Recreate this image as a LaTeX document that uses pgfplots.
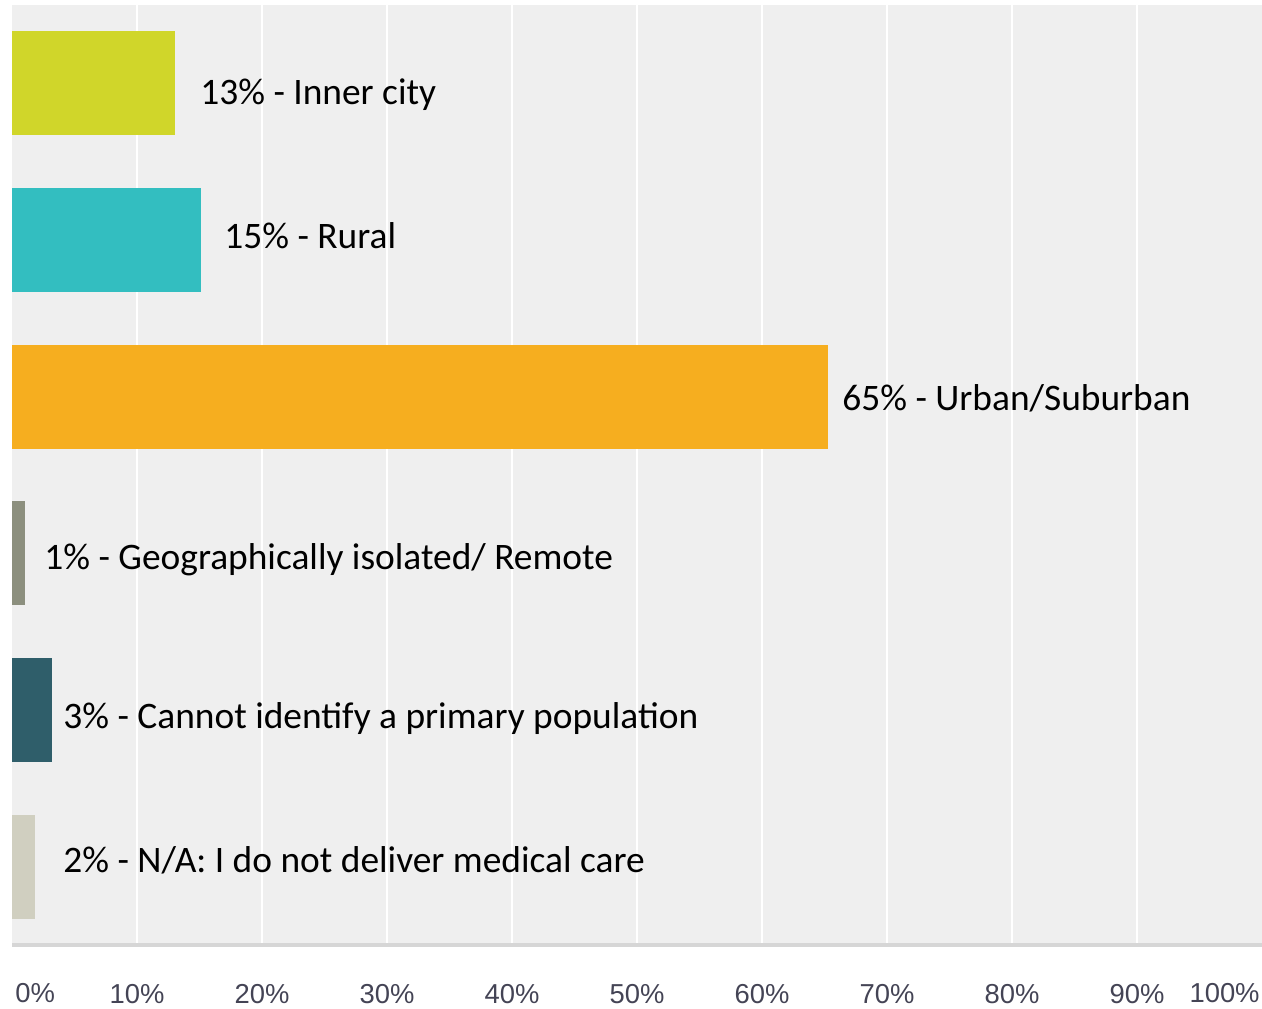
\documentclass[border=0pt]{standalone}
\usepackage{pgfplots}
\pgfplotsset{compat=1.18}
\usepackage{fontspec}
\setmainfont{Carlito}
\newfontfamily\arialf{Liberation Sans}
\definecolor{cInner}{RGB}{208,214,42}
\definecolor{cRural}{RGB}{51,190,192}
\definecolor{cUrban}{RGB}{246,174,31}
\definecolor{cGeo}{RGB}{140,143,126}
\definecolor{cCannot}{RGB}{47,94,106}
\definecolor{cNA}{RGB}{208,207,192}
\definecolor{bgc}{RGB}{239,239,239}
\definecolor{tickc}{RGB}{68,68,85}
\definecolor{axc}{RGB}{214,214,214}
\begin{document}
\begin{tikzpicture}
\path[use as bounding box] (0,0) rectangle (631pt,504pt);
\begin{axis}[
  at={(6pt,31.5pt)}, anchor=south west,
  width=625pt, height=470pt, scale only axis,
  xmin=0, xmax=100, ymin=-0.5, ymax=5.5, y dir=reverse,
  xbar, bar width=0.663,
  axis background/.style={fill=bgc},
  axis line style={draw=none},
  xtick={10,20,...,90},
  xticklabels={10\%,20\%,30\%,40\%,50\%,60\%,70\%,80\%,90\%},
  ytick=\empty,
  major tick length=0pt,
  xmajorgrids, grid style={white, line width=1pt},
  xticklabel style={font=\arialf\fontsize{13.7}{16}\selectfont, text=tickc, anchor=base, yshift=-29pt},
  clip=false,
]
\addplot[fill=cInner, draw=none, bar shift=0pt] coordinates {(13.0,0)};
\addplot[fill=cRural, draw=none, bar shift=0pt] coordinates {(15.1,1)};
\addplot[fill=cUrban, draw=none, bar shift=0pt] coordinates {(65.3,2)};
\addplot[fill=cGeo, draw=none, bar shift=0pt] coordinates {(1.0,3)};
\addplot[fill=cCannot, draw=none, bar shift=0pt] coordinates {(3.2,4)};
\addplot[fill=cNA, draw=none, bar shift=0pt] coordinates {(1.8,5)};
\tikzset{lab/.style={anchor=base west, inner sep=0pt, font=\fontsize{18.7}{22}\selectfont, text=black}}
\node[lab] at (axis cs:15.04,0.138) {13\% - Inner city};
\node[lab] at (axis cs:16.96,1.057) {15\% - Rural};
\node[lab] at (axis cs:66.4,2.085) {65\% - Urban/Suburban};
\node[lab] at (axis cs:2.56,3.100) {1\% - Geographically isolated/ Remote};
\node[lab] at (axis cs:4.08,4.121) {3\% - Cannot identify a primary population};
\node[lab] at (axis cs:4.08,5.040) {2\% - N/A: I do not deliver medical care};
\node[anchor=base west, inner sep=0pt, xshift=1.5pt, font=\arialf\fontsize{13.7}{16}\selectfont, text=tickc] at (axis cs:0,5.87) {0\%};
\node[anchor=base east, inner sep=0pt, xshift=-1pt, font=\arialf\fontsize{13.7}{16}\selectfont, text=tickc] at (axis cs:100,5.87) {100\%};
\end{axis}
\draw[line width=2pt, color=axc] (6pt,31.5pt) -- (631pt,31.5pt);
\end{tikzpicture}
\end{document}
